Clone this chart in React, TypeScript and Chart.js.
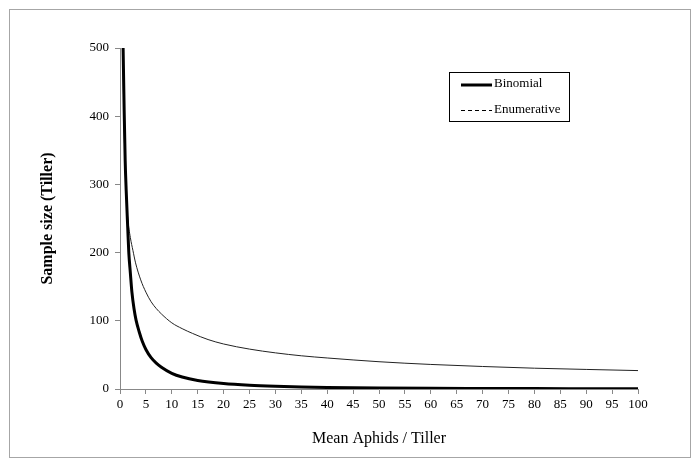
import React, { useEffect, useRef } from "react";
import { Chart, registerables } from "chart.js";

Chart.register(...registerables);

const binomialX = [0.6, 0.8, 1, 1.2, 1.5, 1.7, 2, 2.3, 2.7, 3.1, 3.7, 4.3, 5, 6, 7, 8, 10, 12, 15, 20, 25, 30, 35, 40, 50, 60, 70, 80, 90, 100];
const binomialY = [500, 410, 335, 290, 235, 200, 170, 142, 118, 101, 84, 70, 58, 46, 38, 32, 23, 17.5, 12.5, 8, 5.5, 4, 3, 2.3, 1.5, 1, 0.8, 0.6, 0.5, 0.4];

const enumX = [0.55, 0.7, 0.85, 1, 1.2, 1.5, 2, 2.5, 3, 4, 5, 6, 7, 8, 10, 12, 14, 17, 20, 25, 30, 35, 40, 50, 60, 70, 80, 90, 100];
const enumY = [500, 420, 365, 325, 285, 250, 222, 203, 185, 160, 142, 128, 118, 110, 97, 88.5, 81.5, 72.5, 66, 58.5, 53, 48.7, 45.5, 40, 36, 33, 30.5, 28.7, 27];

const xTicksMin = 0;
const xTicksMax = 100;
const xStep = 5;
const yMin = 0;
const yMax = 500;
const yStep = 100;

const seriesNames = ["Binomial", "Enumerative"];
const xTitle = "Mean Aphids / Tiller";
const yTitle = "Sample size (Tiller)";

const FONT = "'Liberation Serif', 'Times New Roman', serif";

const legendPlugin = {
  id: "boxLegend",
  afterDraw(chart: any) {
    const ctx = chart.ctx;
    ctx.save();
    const bx = 449.5, by = 72.5, bw = 120, bh = 49;
    ctx.strokeStyle = "#000";
    ctx.lineWidth = 1;
    ctx.strokeRect(bx, by, bw, bh);
    ctx.beginPath();
    ctx.lineWidth = 3;
    ctx.moveTo(461, 85);
    ctx.lineTo(492, 85);
    ctx.stroke();
    ctx.beginPath();
    ctx.lineWidth = 1;
    ctx.setLineDash([4, 3]);
    ctx.moveTo(461, 110.5);
    ctx.lineTo(492, 110.5);
    ctx.stroke();
    ctx.setLineDash([]);
    ctx.fillStyle = "#000";
    ctx.font = "13px " + FONT;
    ctx.textBaseline = "middle";
    ctx.textAlign = "left";
    ctx.fillText(seriesNames[0], 494, 84);
    ctx.fillText(seriesNames[1], 494, 110);
    ctx.restore();
  },
};

export default function App() {
  const ref = useRef<HTMLCanvasElement>(null);
  useEffect(() => {
    if (!ref.current) return;
    const chart = new Chart(ref.current, {
      type: "scatter",
      data: {
        datasets: [
          {
            label: seriesNames[0],
            data: binomialX.map((x, i) => ({ x, y: binomialY[i] })),
            showLine: true,
            borderColor: "#000",
            borderWidth: 3,
            pointRadius: 0,
            cubicInterpolationMode: "monotone",
          },
          {
            label: seriesNames[1],
            data: enumX.map((x, i) => ({ x, y: enumY[i] })),
            showLine: true,
            borderColor: "#222",
            borderWidth: 1,
            pointRadius: 0,
            cubicInterpolationMode: "monotone",
          },
        ],
      },
      options: {
        responsive: false,
        animation: false,
        devicePixelRatio: 1,
        layout: { padding: { left: 0, top: 48, right: 62, bottom: 0 } },
        plugins: { legend: { display: false }, tooltip: { enabled: false } },
        scales: {
          x: {
            type: "linear",
            min: xTicksMin,
            max: xTicksMax,
            afterFit: (s: any) => {
              s.height = 77;
            },
            ticks: {
              stepSize: xStep,
              padding: 3,
              color: "#000",
              font: { family: FONT, size: 13 },
              maxRotation: 0,
              autoSkip: false,
            },
            grid: { drawOnChartArea: false, drawTicks: true, tickLength: 5, color: "#888" },
            border: { color: "#888" },
            title: {
              display: true,
              text: xTitle,
              color: "#000",
              font: { family: FONT, size: 16 },
              padding: { top: 0, bottom: 18 },
            },
          },
          y: {
            type: "linear",
            min: yMin,
            max: yMax,
            afterFit: (s: any) => {
              s.width = 120;
            },
            ticks: {
              stepSize: yStep,
              padding: 6,
              color: "#000",
              font: { family: FONT, size: 13 },
            },
            grid: { drawOnChartArea: false, drawTicks: true, tickLength: 5, color: "#888" },
            border: { color: "#888" },
            title: {
              display: true,
              text: yTitle,
              color: "#000",
              font: { family: FONT, size: 16, weight: "bold" },
              padding: { top: 38, bottom: 0 },
            },
          },
        },
      },
      plugins: [legendPlugin],
    });
    return () => chart.destroy();
  }, []);
  return (
    <div style={{ position: "fixed", left: 0, top: 0, width: 700, height: 466, background: "#fff" }}>
      <div
        style={{
          position: "absolute",
          left: 9,
          top: 9,
          width: 682,
          height: 449,
          boxSizing: "border-box",
          border: "1px solid #a6a6a6",
        }}
      />
      <canvas ref={ref} width={700} height={466} style={{ position: "absolute", left: 0, top: 0 }} />
    </div>
  );
}
